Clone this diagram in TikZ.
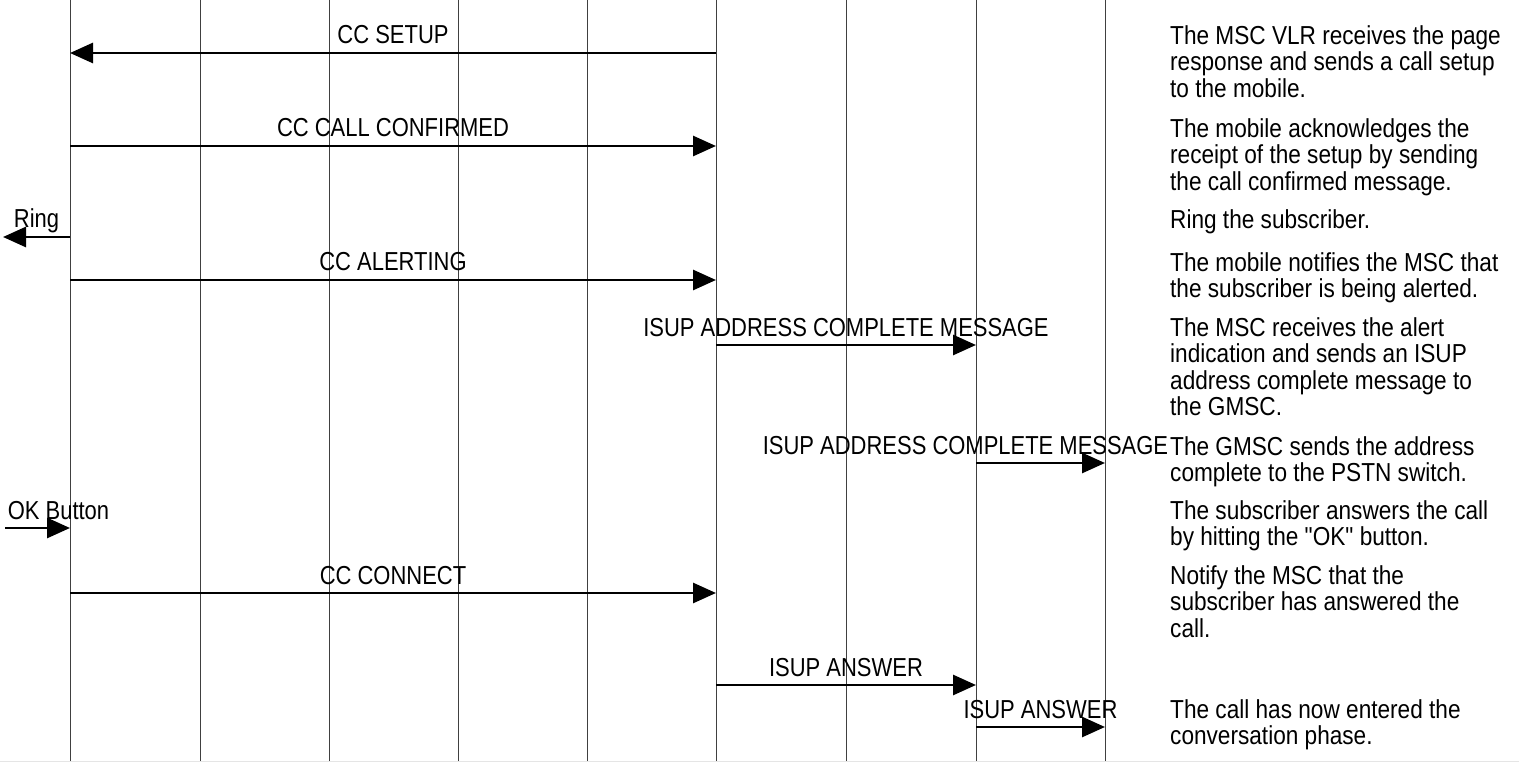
\documentclass[tikz,border=0pt]{standalone}
\usepackage{fontspec}
\setmainfont{Liberation Sans}[FakeStretch=0.845]
\newfontfamily\notefont{Liberation Sans}[FakeStretch=0.87]
\usetikzlibrary{arrows.meta, positioning}

\begin{document}
\begin{tikzpicture}[x=1pt, y=-1pt,
    life/.style={black!75, line width=1pt},
    msg/.style={line width=2.8pt, -{Triangle[length=23pt, width=20pt]}},
    lbl/.style={inner sep=0pt, anchor=base, yshift=9pt, font=\fontsize{26}{26.5}\selectfont},
    note/.style={inner sep=0pt, anchor=north west, align=left, font=\notefont\fontsize{26}{26.6}\selectfont}]
  \useasboundingbox (0,0) rectangle (1519,762);

  % lifelines
  \foreach \x [count=\i] in {70,200,329,458,587,716,846,976,1105}
    \draw[life] (\x,0) coordinate (top\i) -- (\x,762) coordinate (bot\i);
  \draw[black!10] (0,761) -- (1519,761);

  % end points of the messages
  \coordinate (setupA) at (716,53);   \coordinate (setupB) at (70,53);
  \coordinate (confA) at (70,146);    \coordinate (confB) at (716,146);
  \coordinate (ringA) at (70,237);    \coordinate (ringB) at (3,237);
  \coordinate (alertA) at (70,280);   \coordinate (alertB) at (716,280);
  \coordinate (acmA) at (716,345);    \coordinate (acmB) at (976,345);
  \coordinate (acm2A) at (976,463);   \coordinate (acm2B) at (1105,463);
  \coordinate (okA) at (5,528);       \coordinate (okB) at (70,528);
  \coordinate (connA) at (70,593);    \coordinate (connB) at (716,593);
  \coordinate (anmA) at (716,685);    \coordinate (anmB) at (976,685);
  \coordinate (anm2A) at (976,727);   \coordinate (anm2B) at (1105,727);

  % messages
  \draw[msg] (setupA) -- node[lbl] {CC SETUP} (setupB);
  \draw[msg] (confA) -- node[lbl] {CC CALL CONFIRMED} (confB);
  \draw[msg] (ringA) -- node[lbl] {Ring} (ringB);
  \draw[msg] (alertA) -- node[lbl] {CC ALERTING} (alertB);
  \draw[msg] (acmA) -- node[lbl] {ISUP ADDRESS COMPLETE MESSAGE} (acmB);
  \draw[msg] (acm2A) -- node[lbl, xshift=-75pt] {ISUP ADDRESS COMPLETE MESSAGE} (acm2B);
  \draw[msg] (okA) -- node[lbl, xshift=21pt] {OK Button} (okB);
  \draw[msg] (connA) -- node[lbl] {CC CONNECT} (connB);
  \draw[msg] (anmA) -- node[lbl] {ISUP ANSWER} (anmB);
  \draw[msg] (anm2A) -- node[lbl] {ISUP ANSWER} (anm2B);

  % explanations, top of the first line 19pt over its baseline
  \node[note] (n1) at (1170,25) {The MSC VLR receives the page\\response and sends a call setup\\to the mobile.};
  \node[note] (n2) at (1170,118) {The mobile acknowledges the\\receipt of the setup by sending\\the call confirmed message.};
  \node[note] (n3) at (1170,209) {Ring the subscriber.};
  \node[note] (n4) at (1170,252) {The mobile notifies the MSC that\\the subscriber is being alerted.};
  \node[note] (n5) at (1170,317) {The MSC receives the alert\\indication and sends an ISUP\\address complete message to\\the GMSC.};
  \node[note] (n6) at (1170,436) {The GMSC sends the address\\complete to the PSTN switch.};
  \node[note] (n7) at (1170,500) {The subscriber answers the call\\by hitting the "OK" button.};
  \node[note] (n8) at (1170,565) {Notify the MSC that the\\subscriber has answered the\\call.};
  \node[note] (n9) at (1170,699) {The call has now entered the\\conversation phase.};
\end{tikzpicture}
\end{document}
